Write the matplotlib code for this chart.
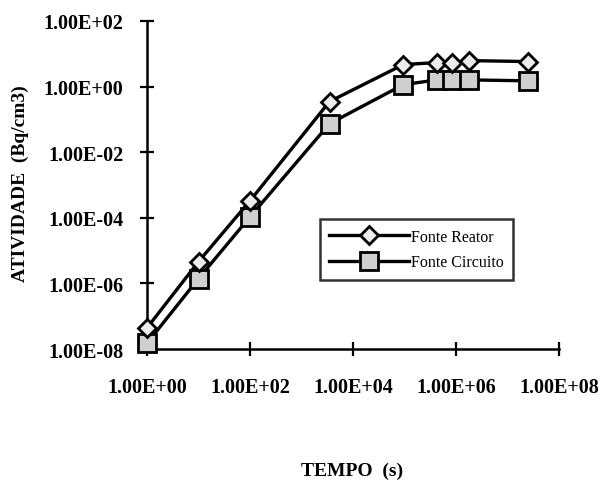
import matplotlib.pyplot as plt

# values (log-log)
tempo = [1, 10, 100, 3.5e3, 9.5e4, 4.3e5, 8.4e5, 1.8e6, 2.5e7]
reator = [4.4e-8, 4.6e-6, 3.3e-4, 0.35, 4.7, 5.4, 5.4, 6.2, 5.8]
circuito = [1.5e-8, 1.4e-6, 1.07e-4, 0.074, 1.15, 1.6, 1.6, 1.6, 1.5]

xticks = [1e0, 1e2, 1e4, 1e6, 1e8]
xlabels = ["1.00E+00", "1.00E+02", "1.00E+04", "1.00E+06", "1.00E+08"]
yticks = [1e-8, 1e-6, 1e-4, 1e-2, 1e0, 1e2]
ylabels = ["1.00E-08", "1.00E-06", "1.00E-04", "1.00E-02", "1.00E+00", "1.00E+02"]

plt.rcParams["font.family"] = ["Liberation Serif", "DejaVu Serif"]

fig = plt.figure(figsize=(6.04, 4.81), dpi=100)
ax = fig.add_axes([147 / 604, 1 - 350 / 481, 412 / 604, 328 / 481])

ax.plot(tempo, reator, color="black", lw=2.4, marker="D", ms=9.5,
        mfc="#ececec", mec="black", mew=2.0, clip_on=False, zorder=4,
        label="Fonte Reator")
ax.plot(tempo, circuito, color="black", lw=2.4, marker="s", ms=12.5,
        mfc="#cfcfcf", mec="black", mew=2.0, clip_on=False, zorder=3,
        label="Fonte Circuito")

ax.set_xscale("log")
ax.set_yscale("log")
ax.set_xlim(1, 1e8)
ax.set_ylim(1e-8, 1e2)
ax.set_xticks(xticks)
ax.set_xticklabels(xlabels)
ax.set_yticks(yticks)
ax.set_yticklabels(ylabels)
ax.minorticks_off()

for s in ["top", "right"]:
    ax.spines[s].set_visible(False)
for s in ["left", "bottom"]:
    ax.spines[s].set_linewidth(1.8)

ax.tick_params(direction="inout", length=10, width=1.6, labelsize=14.5)
ax.tick_params(axis="y", pad=12)
ax.tick_params(axis="x", pad=15)
for lab in ax.get_xticklabels() + ax.get_yticklabels():
    lab.set_fontweight("bold")

leg = ax.legend(loc="upper left", bbox_to_anchor=(0.40, 0.42),
                fontsize=11.5, handlelength=5.0, handletextpad=0.1,
                frameon=True, fancybox=False, borderpad=0.6,
                labelspacing=0.6)
leg.get_frame().set_edgecolor("black")
leg.get_frame().set_linewidth(1.8)

fig.text(20 / 604, 1 - 184 / 481, "ATIVIDADE  (Bq/cm3)", rotation=90,
         ha="center", va="center", fontsize=14, fontweight="bold")
fig.text(352 / 604, 1 - 471 / 481, "TEMPO  (s)", ha="center", va="center",
         fontsize=14, fontweight="bold")

fig.savefig("out.png", dpi=100)
